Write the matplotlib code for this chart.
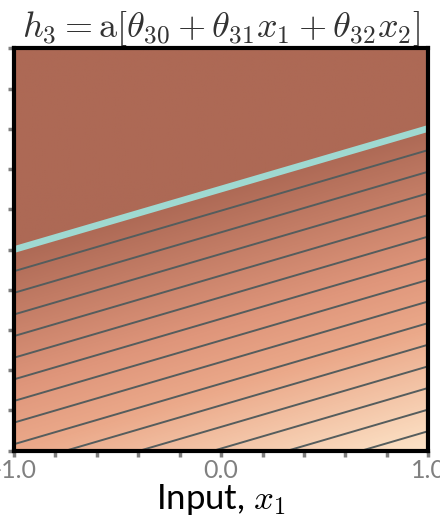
import numpy as np
import matplotlib
matplotlib.use("Agg")
import matplotlib.pyplot as plt
from matplotlib.colors import LinearSegmentedColormap

plt.rcParams['mathtext.fontset'] = 'cm'
plt.rcParams['font.family'] = ['Lato', 'DejaVu Sans']

theta_30 = 2.8
theta_31 = 2.8
theta_32 = -9.3
contour_levels = [1, 2, 3, 4, 5, 6, 7, 8, 9, 10, 11, 12, 13, 14, 15]
tick_pos = [-1.0, -0.8, -0.6, -0.4, -0.2, 0.0, 0.2, 0.4, 0.6, 0.8, 1.0]
x_tick_labels = ['-1.0', '', '', '', '', '0.0', '', '', '', '', '1.0']

x1 = np.linspace(-1, 1, 400)
x2 = np.linspace(-1, 1, 400)
x1_mesh, x2_mesh = np.meshgrid(x1, x2)
pre = theta_30 + theta_31 * x1_mesh + theta_32 * x2_mesh
h3 = np.maximum(pre, 0)

cmap = LinearSegmentedColormap.from_list(
    'brown', [(0.0, '#ad6955'), (0.43, '#df967b'), (0.625, '#eba98a'), (1.0, '#fde4c8')])

fig = plt.figure(figsize=(4.4, 5.21), dpi=100)
ax = fig.add_axes([0.032, 0.135, 0.941, 0.772])

hmax = theta_30 + theta_31 - theta_32
ax.imshow(h3, origin='lower', extent=[-1, 1, -1, 1], cmap=cmap,
          vmin=0, vmax=hmax, aspect='auto', interpolation='bilinear')
ax.contour(x1_mesh, x2_mesh, h3, levels=contour_levels, colors='#555d5d', linewidths=1.4)
ax.contour(x1_mesh, x2_mesh, pre, levels=[0], colors='#9fd9d1', linewidths=4.8)

ax.set_xlim(-1, 1)
ax.set_ylim(-1, 1)
ax.set_xticks(tick_pos)
ax.set_xticklabels(x_tick_labels)
ax.set_yticks(tick_pos)
ax.set_yticklabels([])
ax.tick_params(direction='out', length=4, width=2.5, color='#808080',
               labelcolor='#808080', labelsize=18, pad=2)
for s in ax.spines.values():
    s.set_linewidth(3)
    s.set_color('black')

ax.set_xlabel('Input, $x_1$', fontsize=25, labelpad=0)
ax.set_title(r'$h_3 = \mathrm{a}[\theta_{30}+\theta_{31}x_1+\theta_{32}x_2]$',
             fontsize=26, pad=2, color='#333333')

fig.savefig('out.png', dpi=100)
